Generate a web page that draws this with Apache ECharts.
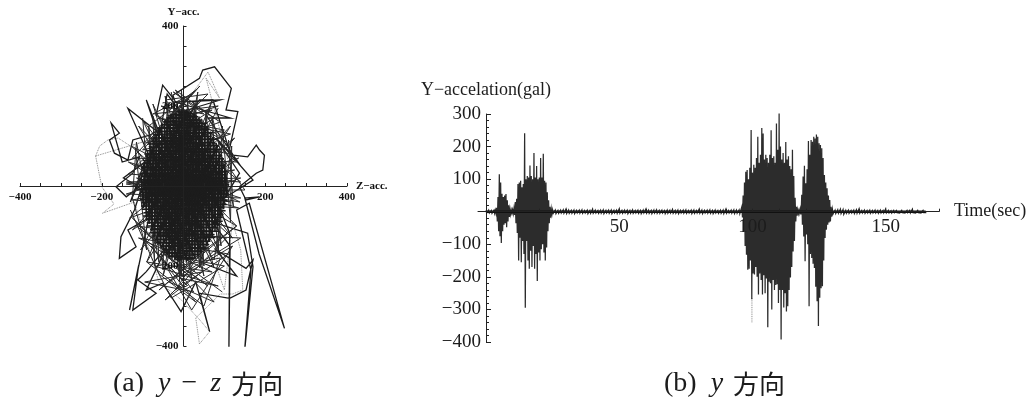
<!DOCTYPE html>
<html><head><meta charset="utf-8">
<style>html,body{margin:0;padding:0;background:#fff}#c{width:1031px;height:404px}</style>
<script src="https://cdn.jsdelivr.net/npm/echarts@6/dist/echarts.min.js"></script>
</head><body><div id="c"></div>
<script>
// (a) y-z orbit : [z, y] in gal
const coreSweepAcross = [[-18,186],[22,181],[-30,178],[36,173],[-42,170],[41,165],[-47,161],[58,157],[-55,153],[52,148],[-66,145],[63,141],[-61,136],[72,133],[-73,129],[69,124],[-78,120],[81,117],[-80,112],[77,108],[-88,105],[85,101],[-84,96],[92,92],[-91,88],[86,85],[-96,80],[95,76],[-90,72],[99,68],[-100,64],[94,60],[-97,56],[103,52],[-104,47],[98,44],[-101,40],[106,36],[-108,31],[101,28],[-103,24],[108,20],[-110,15],[104,12],[-106,8],[112,4],[-108,0],[106,-4],[-112,-8],[109,-12],[-105,-16],[111,-20],[-109,-25],[104,-29],[-107,-33],[108,-37],[-103,-41],[106,-46],[-104,-50],[100,-54],[-102,-58],[103,-62],[-97,-67],[98,-71],[-99,-75],[94,-79],[-93,-83],[96,-88],[-90,-92],[88,-96],[-91,-100],[85,-104],[-82,-108],[86,-113],[-83,-117],[76,-121],[-75,-125],[78,-129],[-70,-134],[66,-138],[-68,-142],[63,-146],[-57,-150],[60,-155],[-52,-159],[47,-163],[-48,-167],[40,-171],[-36,-176],[30,-180],[-20,-184]];
const coreSweepUpDown = [[-104,30],[-98,-55],[-95,62],[-91,-78],[-88,85],[-84,-95],[-81,100],[-77,-112],[-74,118],[-70,-125],[-67,130],[-63,-140],[-60,146],[-56,-150],[-53,155],[-49,-162],[-46,164],[-42,-170],[-39,172],[-35,-176],[-32,178],[-28,-182],[-25,180],[-21,-186],[-18,184],[-14,-188],[-11,190],[-7,-186],[-4,192],[0,-190],[3,188],[7,-192],[10,186],[14,-186],[17,188],[21,-184],[24,182],[28,-182],[31,176],[35,-176],[38,174],[42,-168],[45,166],[49,-160],[52,158],[56,-150],[59,148],[63,-140],[66,136],[70,-128],[73,122],[77,-114],[80,108],[84,-98],[87,90],[91,-80],[94,70],[98,-58],[101,45],[105,-25]];
const coreSweepDiagonal = [[-106,20],[-10,-188],[-100,50],[10,-186],[-92,78],[28,-180],[-84,100],[45,-166],[-72,122],[60,-148],[-60,145],[72,-124],[-45,166],[84,-100],[-30,178],[95,-72],[-12,188],[102,-45],[6,190],[106,-15],[100,52],[-22,-184],[92,78],[-40,-172],[84,100],[-55,-155],[72,122],[-68,-135],[58,150],[-80,-112],[44,168],[-92,-82],[28,180],[-100,-55],[10,188],[-106,-20]];
const longChords = [[-30,235],[50,-225],[-75,205],[95,-180],[-110,150],[130,-100],[-135,60],[140,-30],[-140,-20],[135,70],[-125,-110],[115,150],[-90,-190],[70,215],[-50,-225],[35,235],[-10,-240],[-5,240],[20,-238],[-45,225],[75,-205],[-100,165],[120,-130],[-128,100],[138,-40],[-140,10],[140,20],[-132,-80],[125,120],[-105,-160],[85,195]];
const steepChords = [[-100,170],[-70,-200],[-85,150],[-50,-210],[-40,205],[-5,-225],[10,215],[40,-205],[55,190],[85,-170],[95,150],[115,-90],[118,100],[75,-185],[-118,95],[-90,-160],[-125,-30],[-115,110],[-60,-190],[-75,175],[-10,-220],[-25,210],[50,-200],[25,210],[92,-150],[70,175],[122,-50],[110,115]];
const outerLoops = [[-20,150],[-67,177],[-51,252],[-22,215],[-26,227],[39,269],[47,290],[76,298],[117,244],[104,190],[133,186],[121,132],[112,90],[72,215],[39,215],[7,165],[-40,230],[-60,120],[-91,215],[-59,132],[-136,194],[-83,73],[-60,140],[-83,127],[-124,115],[-136,65],[-169,82],[-181,115],[-157,132],[-177,157],[-150,60],[-108,73],[-124,32],[-165,-2],[-140,-27],[-108,-2],[-147,20],[-95,60],[-130,-40],[-70,100],[-120,-60],[-153,-127],[-157,-181],[-116,-152],[-136,-110],[-85,-80],[-132,-310],[-110,-200],[-124,-310],[-67,-268],[-112,-235],[-91,-214],[-40,-150],[-91,-260],[-51,-243],[-6,-314],[30,-240],[64,-364],[39,-268],[113,-281],[153,-260],[170,-185],[153,-206],[80,-160],[130,-225],[40,-190],[90,-60],[113,-118],[111,-418],[114,-150],[70,-90],[157,-118],[170,-202],[149,-418],[165,-210],[130,-60],[161,-43],[247,-356],[185,-170],[150,-30],[186,-27],[153,-35],[137,-2],[178,32],[194,40],[198,77],[186,90],[178,102],[157,73],[121,77],[88,107],[137,32],[100,-30],[170,15],[80,120],[140,50],[60,170],[115,170],[-20,210],[90,215],[-40,175]];
const lowerMesh = [[-130,-60],[-60,-220],[30,-290],[-80,-150],[10,-250],[-100,-130],[60,-250],[-50,-170],[100,-200],[-30,-280],[-70,-200],[85,-250],[-10,-230],[120,-150],[20,-310],[-40,-205],[90,-180],[50,-300],[-90,-190],[70,-215],[-110,-130],[110,-170],[-20,-260],[40,-170],[-60,-260],[130,-100],[0,-200],[-125,-80],[75,-290],[-35,-240],[140,-130],[-75,-120],[25,-265],[-95,-240],[45,-215],[-45,-285],[105,-130],[-115,-100],[15,-205],[95,-265]];
const upperMesh = [[-85,150],[30,240],[-40,170],[70,190],[-70,100],[90,160],[-25,235],[50,180],[-55,200],[105,110],[-10,200],[120,80],[-95,110],[20,230],[-75,180],[85,200],[-30,160],[115,130],[-115,50],[60,230],[-45,215],[130,60],[-125,70],[40,250],[-100,90],[100,140],[-60,170],[140,10],[-135,30],[75,170],[-20,240],[150,-10],[-120,-10],[125,40],[-140,5],[115,-40],[-115,20],[135,-55],[-125,-35],[120,15]];
const faintTrace = [[-215,75],[-205,100],[-185,115],[-160,120],[-130,100],[-100,110],[-215,75],[-200,-2],[-170,-45],[-198,-68],[-120,-40],[-60,-240],[-5,-285],[40,-335],[64,-364],[39,-395],[30,-330],[90,-270],[120,-270],[145,-260],[140,-160],[120,-90],[100,-260],[80,-200],[110,60],[55,270],[88,220],[60,285],[20,230]];

// (b) y-direction record : [time, high, low]
const quietStart = [[0,4,-4],[1,5,-4],[2,4,-5],[3,5,-5]];
const burstOne = [[3.5,5,-5],[4,12,-30],[4.5,45,-60],[5,115,-75],[5.5,90,-96],[6,55,-60],[6.5,45,-40],[7,50,-35],[7.5,54,-48],[8,35,-30],[8.5,20,-16],[9,8,-8],[9.5,5,-5],[10,6,-6]];
const burstTwo = [[10.5,10,-10],[11,30,-35],[11.5,40,-65],[12,85,-150],[12.5,90,-80],[13,95,-155],[13.5,75,-90],[14,85,-130],[14.5,241,-295],[15,100,-90],[15.5,110,-150],[16,105,-175],[16.5,142,-120],[17,110,-170],[17.5,100,-105],[18,180,-175],[18.5,105,-130],[19,140,-213],[19.5,100,-125],[20,105,-150],[20.5,165,-115],[21,105,-100],[21.5,178,-125],[22,95,-150],[22.5,90,-110],[23,60,-60],[23.5,35,-35],[24,15,-18],[24.5,8,-8],[25,6,-5]];
const quietMiddle = [[26,5,-6],[27,4,-5],[28,5,-4],[29,6,-5],[30,8,-6],[31,5,-5],[32,4,-5],[33,5,-6],[34,4,-4],[35,5,-5],[36,6,-5],[37,4,-4],[38,5,-6],[39,4,-5],[40,8,-5],[41,5,-4],[42,4,-5],[43,5,-5],[44,6,-6],[45,4,-4],[46,5,-5],[47,5,-6],[48,4,-4],[49,5,-5],[50,9,-5],[51,4,-5],[52,5,-4],[53,5,-6],[54,4,-5],[55,6,-5],[56,4,-4],[57,5,-5],[58,4,-6],[59,5,-4],[60,8,-5],[61,5,-5],[62,4,-6],[63,5,-4],[64,6,-5],[65,4,-5],[66,5,-4],[67,4,-6],[68,5,-5],[69,5,-4],[70,7,-5],[71,4,-5],[72,5,-6],[73,4,-4],[74,5,-5],[75,6,-5],[76,4,-4],[77,5,-6],[78,5,-5],[79,4,-4],[80,8,-5],[81,5,-6],[82,4,-4],[83,5,-5],[84,6,-5],[85,4,-6],[86,5,-4],[87,4,-5],[88,5,-5],[89,5,-6],[90,8,-5],[91,4,-4],[92,5,-5],[93,6,-6],[94,5,-5],[95,6,-6]];
const burstThree = [[96,15,-18],[96.5,50,-60],[97,90,-105],[97.5,123,-132],[98,128,-178],[98.5,100,-175],[99,135,-150],[99.5,251,-269],[100,120,-190],[100.5,144,-193],[101,135,-170],[101.5,165,-200],[102,230,-254],[102.5,150,-190],[103,175,-210],[103.5,257,-254],[104,240,-195],[104.5,160,-250],[105,175,-205],[105.5,165,-355],[106,150,-215],[106.5,175,-220],[107,250,-300],[107.5,165,-210],[108,170,-240],[108.5,150,-225],[109,271,-223],[109.5,190,-280],[110,303,-240],[110.5,200,-392],[111,160,-240],[111.5,180,-294],[112,150,-250],[112.5,214,-306],[113,160,-290],[113.5,170,-240],[114,140,-202],[114.5,130,-170],[115,190,-122],[115.5,110,-90],[116,43,-30],[116.5,15,-12],[117,6,-6]];
const burstFour = [[117.5,5,-5],[118,8,-8],[118.5,52,-40],[119,108,-76],[119.5,141,-152],[120,87,-70],[120.5,130,-100],[121,217,-290],[121.5,175,-130],[122,220,-142],[122.5,215,-160],[123,230,-173],[123.5,225,-230],[124,237,-275],[124.5,230,-351],[125,210,-264],[125.5,205,-235],[126,195,-229],[126.5,165,-150],[127,113,-81],[127.5,90,-55],[128,72,-40],[128.5,50,-33],[129,36,-30],[129.5,15,-15],[130,7,-7]];
const quietEnd = [[131,5,-6],[132,6,-5],[133,8,-6],[134,7,-8],[135,4,-5],[136,5,-5],[137,4,-4],[138,5,-6],[139,6,-5],[140,9,-5],[141,4,-4],[142,5,-5],[143,4,-4],[144,5,-5],[145,4,-4],[146,5,-4],[147,4,-5],[148,5,-4],[149,4,-4],[150,9,-4],[151,4,-4],[152,3,-4],[153,4,-3],[154,4,-3],[155,3,-4],[156,4,-3],[157,3,-4],[158,4,-3],[159,4,-4],[160,8,-3],[161,3,-4],[162,4,-3],[163,3,-4],[164,4,-3],[165,3,-3]];
const baselineTrace = [[0,0],[165,0]];
const faintSpike = [[99.8,-265],[99.8,-340]];

// tick labels and texts
const zTickLabels = [-400,-200,200,400];
const yTickLabels = [-400,-200,200,400];
const timeTicks = [10,20,30,40,50,60,70,80,90,100,110,120,130,140,150,160,170];
const timeLabels = [50,100,150];

const serif = '"Liberation Serif","DejaVu Serif",serif';
const wave = [...quietStart,...burstOne,...burstTwo,...quietMiddle,...burstThree,...burstFour,...quietEnd]
  .flatMap(r => [[r[0],r[1]],[r[0]+0.25,r[2]]]);
const minusFmt = v => String(v).replace('-','\u2212');
const lineSeries = (data, xi, color, width, type) => ({type:'line',xAxisIndex:xi,yAxisIndex:xi,data,symbol:'none',silent:true,
  clip:true,lineStyle:{color,width,type:type||'solid',join:'miter'}});
const smallAxis = {color:'#111',fontFamily:serif,fontSize:11,fontWeight:'bold',formatter:minusFmt};
const line = {lineStyle:{color:'#222',width:1}};
const capRich = {
  r:{fontSize:28,fontFamily:serif,color:'#1c1c1c'},
  y:{fontSize:28,fontFamily:serif,fontStyle:'italic',color:'#1c1c1c',padding:[0,0,0,14]},
  m:{fontSize:28,fontFamily:serif,color:'#1c1c1c',padding:[0,0,0,11]},
  z:{fontSize:28,fontFamily:serif,fontStyle:'italic',color:'#1c1c1c',padding:[0,0,0,13]},
  c:{fontSize:26,fontFamily:'"Noto Sans CJK JP"',color:'#1c1c1c',padding:[0,0,0,10]}
};

const chart = echarts.init(document.getElementById('c'),null,{renderer:'canvas'});
chart.setOption({
  animation:false,backgroundColor:'#fff',
  title:[
    {left:113,top:370,padding:0,textStyle:{fontWeight:'normal',fontSize:28,fontFamily:serif,color:'#1c1c1c',rich:capRich},
      text:'{r|(a)}{y|y}{m|\u2212}{z|z}{c|方向}'},
    {left:664,top:370,padding:0,textStyle:{fontWeight:'normal',fontSize:28,fontFamily:serif,color:'#1c1c1c',rich:capRich},
      text:'{r|(b)}{y|y}{c|方向}'}
  ],
  grid:[
    {left:20,right:684,top:26,bottom:58},
    {left:478,right:92,top:114,bottom:62}
  ],
  xAxis:[
    {gridIndex:0,type:'value',z:5,min:-400,max:400,interval:50,position:'bottom',offset:-160,name:'Z\u2212acc.',nameLocation:'end',nameGap:9,
     nameTextStyle:{fontFamily:serif,fontSize:11,fontWeight:'bold',color:'#111',verticalAlign:'middle'},
     axisLine:{onZero:false,...line},axisTick:{show:true,inside:true,length:3,...line},splitLine:{show:false},
     axisLabel:{...smallAxis,margin:6,customValues:zTickLabels}},
    {gridIndex:1,type:'value',z:5,min:-3,max:170,position:'bottom',offset:-130.3,name:'Time(sec)',nameLocation:'end',nameGap:15,
     nameTextStyle:{fontFamily:serif,fontSize:18,color:'#1c1c1c',verticalAlign:'middle'},
     axisLine:{onZero:false,...line},axisTick:{show:true,inside:true,length:3,customValues:timeTicks,...line},splitLine:{show:false},
     axisLabel:{color:'#1c1c1c',fontFamily:serif,fontSize:19,margin:6,customValues:timeLabels}}
  ],
  yAxis:[
    {gridIndex:0,type:'value',z:5,min:-400,max:400,interval:50,position:'left',offset:-163.5,name:'Y\u2212acc.',nameLocation:'end',nameGap:8,
     nameTextStyle:{fontFamily:serif,fontSize:11,fontWeight:'bold',color:'#111',align:'center'},
     axisLine:{onZero:false,...line},axisTick:{show:true,inside:true,length:3,...line},splitLine:{show:false},
     axisLabel:{...smallAxis,margin:5,customValues:yTickLabels}},
    {gridIndex:1,type:'value',z:5,min:-400,max:300,interval:100,position:'left',offset:-8,name:'Y\u2212accelation(gal)',nameLocation:'end',nameGap:15,
     nameTextStyle:{fontFamily:serif,fontSize:18,color:'#1c1c1c',align:'center'},
     axisLine:{onZero:false,...line},axisTick:{show:true,inside:true,length:5,...line},
     minorTick:{show:true,splitNumber:5,length:3,...line},splitLine:{show:false},
     axisLabel:{color:'#1c1c1c',fontFamily:serif,fontSize:19,margin:5,formatter:v=>v===0?'':minusFmt(v)}}
  ],
  series:[
    lineSeries(faintTrace,0,'#777',0.9,'dotted'),
    lineSeries(outerLoops,0,'#1a1a1a',1.3),
    lineSeries(lowerMesh,0,'#2a2a2a',1),
    lineSeries(upperMesh,0,'#2a2a2a',1),
    lineSeries(longChords,0,'#2a2a2a',1),
    lineSeries(steepChords,0,'#2a2a2a',1),
    lineSeries(coreSweepAcross,0,'#1c1c1c',1.5),
    lineSeries(coreSweepUpDown,0,'#1c1c1c',1.5),
    lineSeries(coreSweepDiagonal,0,'#1c1c1c',1.5),
    lineSeries(faintSpike,1,'#777',0.9,'dotted'),
    lineSeries(wave,1,'#2c2c2c',1.25),
    lineSeries(baselineTrace,1,'#111',2.6)
  ]
});
</script></body></html>
